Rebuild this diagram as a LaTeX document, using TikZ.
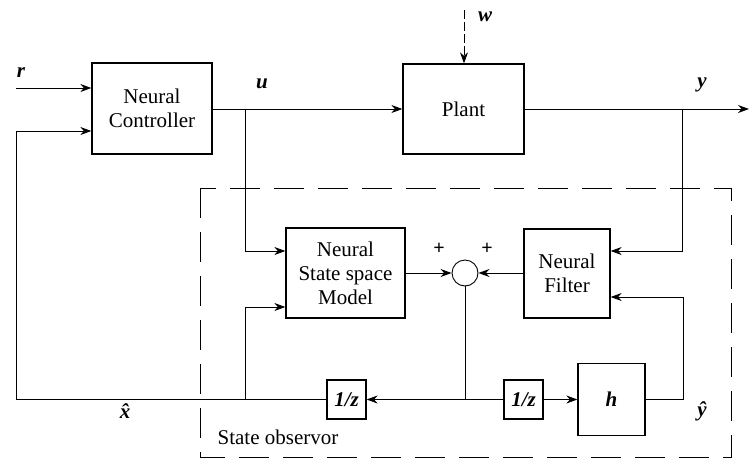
\documentclass[tikz,border=0pt]{standalone}
\usepackage{fontspec}
\setmainfont{Liberation Serif}
\usetikzlibrary{arrows.meta}
\begin{document}
\begin{tikzpicture}[x=1pt,y=-1pt,
  blk/.style={draw,line width=1.3pt,inner sep=0pt,align=center,font=\fontsize{21}{24}\selectfont},
  lbl/.style={font=\fontsize{21}{24}\selectfont\bfseries\itshape,inner sep=0pt},
  txt/.style={font=\fontsize{21}{24}\selectfont,inner sep=0pt},
  pl/.style={font=\fontsize{20}{22}\selectfont\bfseries,inner sep=0pt},
  wire/.style={line width=0.9pt},
  arr/.style={wire,-{Stealth[length=11pt,width=8pt]}},
  obsbox/.style={line width=0.9pt,dash pattern=on 30pt off 14pt}
]
\useasboundingbox (0,0) rectangle (749,458);

% blocks
\node[blk,minimum width=120,minimum height=91] (nc) at (152,108.5) {Neural\\Controller};
\node[blk,minimum width=121,minimum height=90] (plant) at (463.5,109) {Plant};
\node[blk,minimum width=119,minimum height=90] (nssm) at (345.5,273) {Neural\\State space\\Model};
\node[blk,minimum width=86,minimum height=89] (nf) at (567,273.5) {Neural\\Filter};
\node[draw,circle,line width=0.9pt,minimum size=26,inner sep=0pt] (sum) at (465,273) {};
\node[blk,minimum width=39,minimum height=39] (z1) at (346.5,399.5) {\bfseries\itshape 1/z};
\node[blk,minimum width=39,minimum height=39] (z2) at (523.5,399.5) {\bfseries\itshape 1/z};
\node[blk,minimum width=67,minimum height=72] (h) at (611.5,399.5) {\bfseries\itshape h};

% state observer box
\draw[obsbox] (200,188) rectangle (731,457);

% coordinates
\coordinate (rin) at (16,88);
\coordinate (fb) at (16,131);
\coordinate (ub) at (245,109);
\coordinate (xb) at (245,399.5);
\coordinate (wt) at (464,10);
\coordinate (yend) at (749,109);
\coordinate (yb) at (682,109);
\coordinate (hr) at (683,399.5);

% connectors
\draw[arr] (rin) -- (rin -| nc.west);
\draw[arr] (z1.west) -- (z1.west -| fb) -- (fb) -- (fb -| nc.west);
\draw[arr] (nc.east |- plant.west) -- (plant.west);
\draw[arr,dash pattern=on 9pt off 3pt] (wt) -- (wt |- plant.north);
\draw[arr] (plant.east) -- (yend);
\draw[arr] (ub) |- ([yshift=22pt]nssm.west);
\draw[arr] (xb) |- ([yshift=-34pt]nssm.west);
\draw[arr] (yb) |- ([yshift=22.5pt]nf.east);
\draw[arr] (nssm.east) -- (sum.west);
\draw[arr] (nf.west |- sum.east) -- (sum.east);
\draw[wire] (sum.south) -- (sum.south |- z1.east);
\draw[arr] (sum.south |- z1.east) -- (z1.east);
\draw[wire] (sum.south |- z2.west) -- (z2.west);
\draw[arr] (z2.east) -- (h.west);
\draw[arr] (h.east) -- (hr) |- ([yshift=-23.5pt]nf.east);

% labels
\node[lbl] (lr) at (21,73) {r};
\node[lbl] (lu) at (262,84) {u};
\node[lbl] (lw) at (485,17) {w};
\node[lbl] (ly) at (702,85) {y};
\node[lbl] (lx) at (125,411) {\^x};
\node[lbl] (lyh) at (702,411) {ŷ};
\node[pl] (p1) at (439,249) {+};
\node[pl] (p2) at (487,249) {+};
\node[txt] (so) at (278,437) {State observor};
\end{tikzpicture}
\end{document}
